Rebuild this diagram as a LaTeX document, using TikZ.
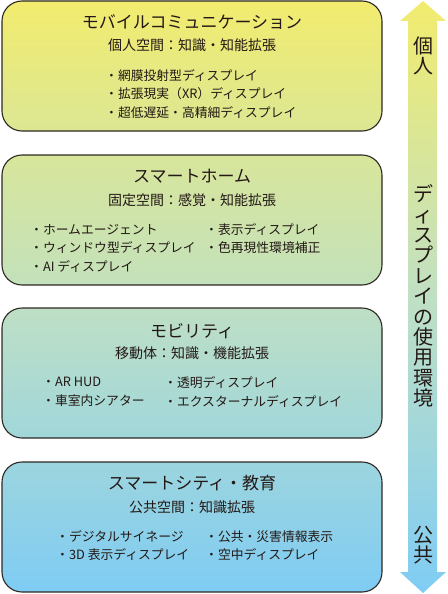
\documentclass[tikz,border=0pt]{standalone}
\usepackage{fontspec}
\setmainfont{Noto Sans CJK JP}

\definecolor{ink}{RGB}{35,24,21}
\definecolor{edge}{RGB}{45,40,35}
\definecolor{topA}{RGB}{242,236,110}
\definecolor{botA}{RGB}{220,231,148}
\definecolor{topB}{RGB}{216,230,155}
\definecolor{botB}{RGB}{195,225,187}
\definecolor{topC}{RGB}{190,223,197}
\definecolor{botC}{RGB}{161,215,219}
\definecolor{topD}{RGB}{156,213,222}
\definecolor{botD}{RGB}{127,204,244}
\definecolor{midArr}{RGB}{192,224,196}

\begin{document}
\lineskiplimit=-20pt
\begin{tikzpicture}[x=1pt, y=-1pt,
  panel/.style={draw=edge, line width=1.1pt, rounded corners=20pt,
    minimum width=380pt, minimum height=130pt, inner sep=0pt},
  title/.style={text=ink, inner sep=0pt, font=\fontsize{17}{17}\selectfont},
  subtitle/.style={text=ink, inner sep=0pt, font=\fontsize{14}{14}\selectfont},
  items/.style={text=ink, inner sep=0pt, anchor=west, align=left,
    font=\fontsize{12.8}{18.5}\selectfont},
  vtext/.style={text=ink, inner sep=0pt, align=center,
    font=\fontsize{20}{20.4}\selectfont}]
\pgfmathsetmacro{\cx}{192}
\pgfmathsetmacro{\ax}{423}

\useasboundingbox (0,0) rectangle (447,594);

% right arrow
\shade[top color=topA, bottom color=botD, middle color=midArr]
  (408,21) -- (400,21) -- (\ax,1) -- (446,21) -- (437,21)
  -- (437,572) -- (446,572) -- (\ax,593) -- (400,572) -- (408,572) -- cycle;
\node[vtext] (private) at (\ax,56) {個\\人};
\node[vtext] (usage) at (\ax,296) {デ\\ィ\\ス\\プ\\レ\\イ\\の\\使\\用\\環\\境};
\node[vtext] (public) at (\ax,545) {公\\共};

% mobile
\node[panel, top color=topA, bottom color=botA] (mobile) at (\cx,66) {};
\node[title] (mobileT) at (\cx,22) {モバイルコミュニケーション};
\node[subtitle] (mobileS) at (\cx,45) {個人空間：知識・知能拡張};
\node[items] (mobileL) at (105,94) {・網膜投射型ディスプレイ\\・拡張現実（XR）ディスプレイ\\・超低遅延・高精細ディスプレイ};

% smart home
\node[panel, top color=topB, bottom color=botB] (home) at (\cx,220) {};
\node[title] (homeT) at (\cx,176) {スマートホーム};
\node[subtitle] (homeS) at (\cx,200) {固定空間：感覚・知能拡張};
\node[items] (homeL) at (30,248) {・ホームエージェント\\・ウィンドウ型ディスプレイ\\・AI ディスプレイ};
\node[items] (homeR) at (205,238.5) {・表示ディスプレイ\\・色再現性環境補正};

% mobility
\node[panel, top color=topC, bottom color=botC] (mobility) at (\cx,373) {};
\node[title] (mobilityT) at (\cx,331) {モビリティ};
\node[subtitle] (mobilityS) at (\cx,353) {移動体：知識・機能拡張};
\node[items] (mobilityL) at (42,392) {・AR HUD\\・車室内シアター};
\node[items] (mobilityR) at (164,392) {・透明ディスプレイ\\・エクスターナルディスプレイ};

% smart city
\node[panel, top color=topD, bottom color=botD] (city) at (\cx,527) {};
\node[title] (cityT) at (\cx,483) {スマートシティ・教育};
\node[subtitle] (cityS) at (\cx,507) {公共空間：知識拡張};
\node[items] (cityL) at (56,545.5) {・デジタルサイネージ\\・3D 表示ディスプレイ};
\node[items] (cityR) at (205,545.5) {・公共・災害情報表示\\・空中ディスプレイ};
\end{tikzpicture}
\end{document}
